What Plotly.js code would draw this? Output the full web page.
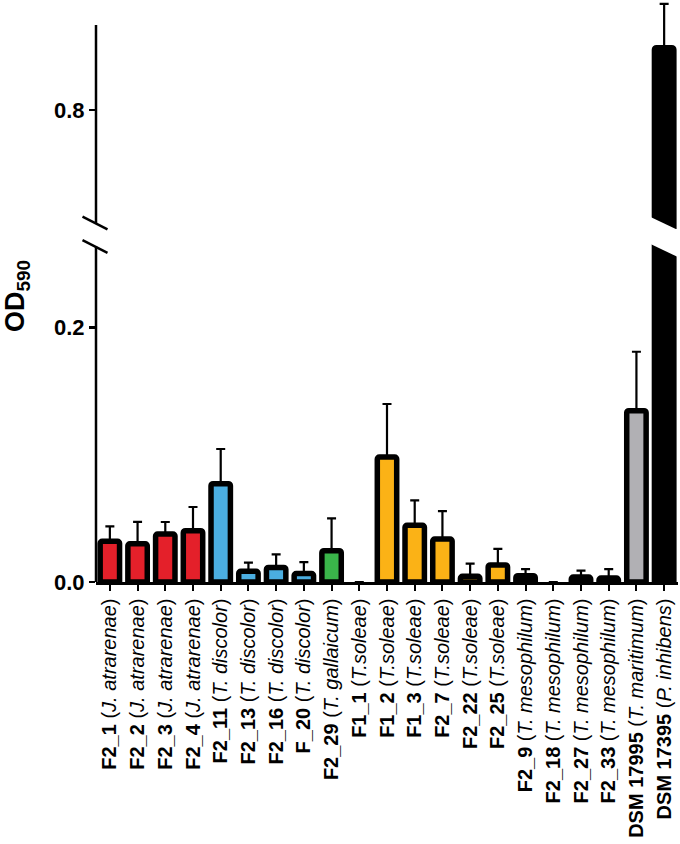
<!DOCTYPE html>
<html>
<head>
<meta charset="utf-8">
<script src="https://cdn.plot.ly/plotly-3.0.1.min.js"></script>
<style>html,body{margin:0;padding:0;background:#fff;}</style>
</head>
<body>
<div id="chart" style="width:680px;height:844px;"></div>
<script>
// ---- data ----
const strainIds = ['F2_1','F2_2','F2_3','F2_4','F2_11','F2_13','F2_16','F_20','F2_29','F1_1','F1_2','F1_3','F2_7','F2_22','F2_25','F2_9','F2_18','F2_27','F2_33','DSM 17995','DSM 17395'];
const species = ['J. atrarenae','J. atrarenae','J. atrarenae','J. atrarenae','T. discolor','T. discolor','T. discolor','T. discolor','T. gallaicum','T.soleae','T.soleae','T.soleae','T.soleae','T.soleae','T.soleae','T. mesophilum','T. mesophilum','T. mesophilum','T. mesophilum','T. maritimum','P. inhibens'];
const od590 = [0.032,0.030,0.0377,0.0404,0.0773,0.0084,0.0115,0.0066,0.0246,0,0.0983,0.0446,0.0338,0.0045,0.0134,0.0050,0,0.0039,0.0031,0.1347,0.849];
const od590Err = [0.0118,0.0173,0.0095,0.0186,0.0273,0.0068,0.0103,0.0091,0.0255,0,0.0417,0.0196,0.0220,0.0099,0.0126,0.0052,0,0.0050,0.0071,0.0464,0.0344];
const groupColors = ['#E4202A','#E4202A','#E4202A','#E4202A','#4BAEE1','#4BAEE1','#4BAEE1','#4BAEE1','#3AB54A','#FFFFFF','#FBB216','#FBB216','#FBB216','#FBB216','#FBB216','#000000','#000000','#000000','#000000','#B1B0B4','#000000'];

// ---- build ----
const tickText = strainIds.map((s,i)=>'<b>'+s+'</b> (<i>'+species[i]+'</i>)');
const zeros = od590.map(()=>0);
const outlineWidths = od590.map(v => v > 0 ? 5.5 : 0);

function barTrace(yaxis){
  return {
    type:'bar', x:strainIds, y:od590, yaxis:yaxis, xaxis:'x',
    marker:{color:groupColors, line:{color:'#000', width:outlineWidths}, cornerradius:2},
    error_y:{type:'data', symmetric:false, array:od590Err, arrayminus:zeros, color:'#000', thickness:2.2, width:4.5},
    hoverinfo:'skip', showlegend:false
  };
}

// pixel helpers for decorations (plot area 96..678 x 0..582)
const W=582, H=582, L=96;
const px = X => (X-L)/W;
const py = Y => (H-Y)/H;

const shapes = [
  // upper y-axis line
  {type:'line', xref:'paper', yref:'paper', x0:0, x1:0, y0:py(223), y1:py(25), line:{color:'#000', width:2.5}},
  // lower y-axis line
  {type:'line', xref:'paper', yref:'paper', x0:0, x1:0, y0:py(246.5), y1:py(582), line:{color:'#000', width:2.5}},
  // break slashes on axis
  {type:'line', xref:'paper', yref:'paper', x0:px(82.5), x1:px(107.5), y0:py(216.7), y1:py(229.3), line:{color:'#000', width:2.5}},
  {type:'line', xref:'paper', yref:'paper', x0:px(82.5), x1:px(107.5), y0:py(240.2), y1:py(252.8), line:{color:'#000', width:2.5}},
  // slanted cuts on the broken bar
  {type:'path', xref:'paper', yref:'paper', layer:'above', line:{width:0}, fillcolor:'#fff',
   path:'M'+px(640)+','+py(212)+' L'+px(682)+','+py(232)+' L'+px(682)+','+py(259)+' L'+px(640)+','+py(239)+' Z'}
];

const layout = {
  width:680, height:844,
  margin:{l:96, r:2, t:0, b:262},
  paper_bgcolor:'#fff', plot_bgcolor:'rgba(0,0,0,0)',
  bargap:0.3,
  font:{family:'Liberation Sans, Arial, sans-serif', color:'#000'},
  xaxis:{
    type:'category', range:[-0.5, strainIds.length-0.5],
    tickvals:strainIds, ticktext:tickText, tickangle:-90,
    ticks:'outside', ticklen:6, tickwidth:2, tickcolor:'#000',
    showline:true, linewidth:2.5, linecolor:'#000', showgrid:false, zeroline:false,
    tickfont:{family:'Liberation Sans, Arial, sans-serif', size:20, color:'#000'},
    anchor:'y'
  },
  yaxis:{
    domain:[0, py(242)], range:[0, 340/1271.5],
    tickvals:[0, 0.2], tickformat:'.1f',
    ticks:'outside', ticklen:6, tickwidth:2.5, tickcolor:'#000',
    showline:false, showgrid:false, zeroline:false,
    tickfont:{family:'Liberation Sans, Arial, sans-serif', size:22, color:'#000', weight:'bold'}
  },
  yaxis2:{
    domain:[py(229), 1], range:[0.8-(229-110)/1271.5, 0.8+110/1271.5],
    tickvals:[0.8], tickformat:'.1f',
    ticks:'outside', ticklen:6, tickwidth:2.5, tickcolor:'#000',
    showline:false, showgrid:false, zeroline:false,
    tickfont:{family:'Liberation Sans, Arial, sans-serif', size:22, color:'#000', weight:'bold'},
    anchor:'x'
  },
  shapes:shapes,
  annotations:[{
    xref:'paper', yref:'paper', x:px(17), y:py(296), xanchor:'center', yanchor:'middle',
    textangle:-90, showarrow:false,
    text:'<b>OD<sub>590</sub></b>',
    font:{family:'Liberation Sans, Arial, sans-serif', size:27, color:'#000'}
  }]
};

Plotly.newPlot('chart', [barTrace('y'), barTrace('y2')], layout, {displayModeBar:false, staticPlot:true});
</script>
</body>
</html>
